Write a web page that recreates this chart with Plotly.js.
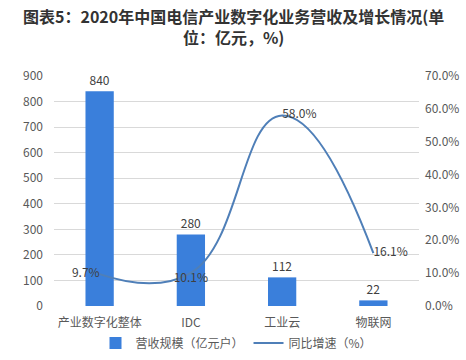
<!DOCTYPE html>
<html>
<head>
<meta charset="utf-8">
<script src="https://cdn.plot.ly/plotly-3.0.1.min.js"></script>
<style>html,body{margin:0;padding:0;background:#fff;}#chart{width:466px;height:360px;}</style>
</head>
<body>
<div id="chart"></div>
<script>
const categories = ['产业数字化整体', 'IDC', '工业云', '物联网'];
const revenue = [840, 280, 112, 22];
const growth = [0.097, 0.101, 0.580, 0.161];
const revenueName = '营收规模（亿元户）';
const growthName = '同比增速（%）';
const titleText = '图表5：2020年中国电信产业数字化业务营收及增长情况(单<br>位：亿元，%)';

const FONT = '"Noto Sans CJK SC", "Noto Sans", sans-serif';

const traces = [
  {
    type: 'bar', x: categories, y: revenue, name: revenueName,
    marker: {color: '#3A7FDB'}, width: 0.31,
    text: revenue.map(v => String(v)), textposition: 'outside', cliponaxis: false,
    textfont: {size: 12, color: '#404040', family: FONT}
  },
  {
    type: 'scatter', mode: 'lines+text', x: categories, y: growth, yaxis: 'y2', name: growthName,
    line: {color: '#4F7FB8', width: 2, shape: 'spline', smoothing: 1.3},
    text: growth.map(v => (v * 100).toFixed(1) + '%'),
    textposition: ['middle left', 'bottom center', 'middle right', 'middle right'],
    textfont: {size: 12, color: '#404040', family: FONT}, cliponaxis: false
  }
];

const layout = {
  width: 466, height: 360,
  margin: {l: 54, r: 47, t: 76, b: 54, autoexpand: false},
  paper_bgcolor: '#fff', plot_bgcolor: '#fff',
  font: {family: FONT, color: '#595959', size: 12},
  annotations: [{
    text: '<b>' + titleText + '</b>', xref: 'paper', yref: 'paper',
    x: (233 - 54) / 365, y: (306 - 26.5) / 230,
    xanchor: 'center', yanchor: 'middle', align: 'center', showarrow: false,
    font: {family: FONT, size: 16, color: '#333'}
  }],
  bargap: 0.69,
  xaxis: {type: 'category', showgrid: false, zeroline: false, showline: false, ticks: '',
          automargin: false, ticklabelstandoff: 8, tickfont: {size: 12, color: '#595959'}},
  yaxis: {range: [0, 900], dtick: 100, showgrid: true, gridcolor: '#d9d9d9', gridwidth: 1,
          automargin: false, ticklabelstandoff: 10,
          zeroline: false, showline: false, ticks: '', tickfont: {size: 12, color: '#595959'}},
  yaxis2: {range: [0, 0.7], dtick: 0.1, tickformat: '.1%', overlaying: 'y', side: 'right',
           automargin: false, ticklabelstandoff: 5,
           showgrid: false, zeroline: false, showline: false, ticks: '',
           tickfont: {size: 12, color: '#595959'}},
  showlegend: true,
  legend: {orientation: 'h', x: 0.5, xanchor: 'center', yref: 'container', y: 1 - 343 / 360, yanchor: 'middle',
           font: {size: 12, color: '#595959'}, itemwidth: 30}
};

Plotly.newPlot('chart', traces, layout, {displayModeBar: false, staticPlot: true});
</script>
</body>
</html>
